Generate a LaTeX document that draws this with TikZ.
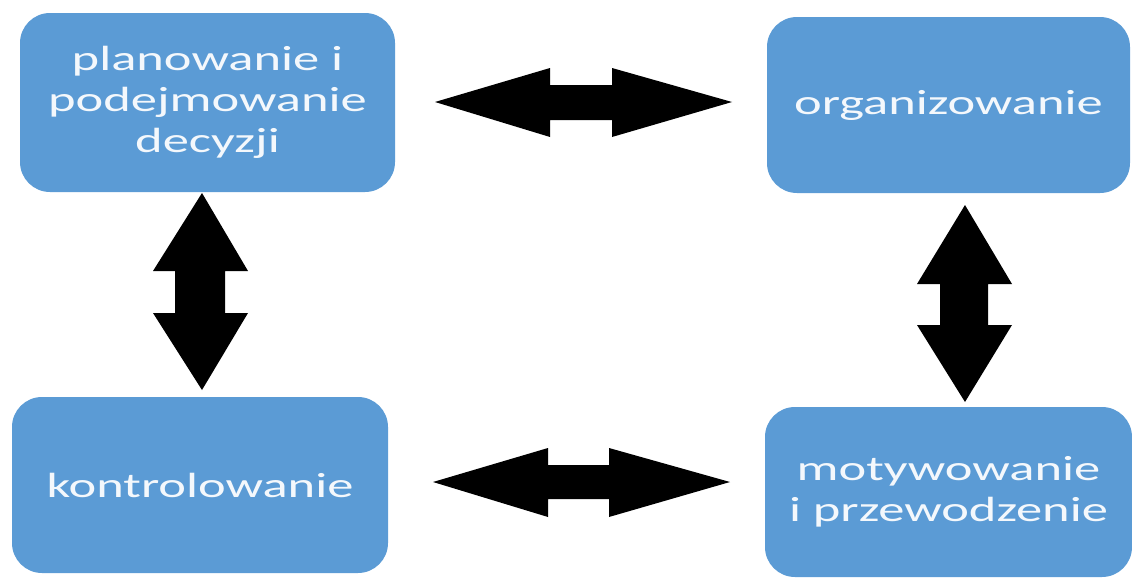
\documentclass[tikz,border=0pt]{standalone}
\usepackage{fontspec}
\setmainfont{Carlito}
\newfontfamily\boxfont[FakeStretch=1.5]{Carlito}
\usetikzlibrary{positioning}
\definecolor{boxblue}{HTML}{5B9BD5}
\definecolor{boxtext}{HTML}{F4F8FC}

\begin{document}
\begin{tikzpicture}[line cap=round,line join=round,x=0.5pt,y=-0.5pt,
  task/.style={fill=boxblue,rounded corners=15pt,text=boxtext,align=center,
    font=\boxfont\fontsize{17.5pt}{20.5pt}\selectfont,inner sep=0pt}]
\useasboundingbox (0,0) rectangle (1132,578);
% the four functions
\node[task,minimum width=187.5pt,minimum height=89.5pt] (plan) at (207.5,102.5) {planowanie i\\podejmowanie\\decyzji};
\node[task,minimum width=181.5pt,minimum height=88pt] (org) at (948.5,105) {organizowanie};
\node[task,minimum width=188pt,minimum height=88pt] (kontr) at (200,485) {kontrolowanie};
\node[task,minimum width=183.5pt,minimum height=85pt] (motyw) at (948.5,492) {motywowanie\\i przewodzenie};
% block arrows between them
\fill (435,102)--(550,68)--(550,85)--(612,85)--(612,68)--(732,102)--(612,137)--(612,120)--(550,120)--(550,137)--cycle;
\fill (433,482)--(548,448)--(548,465)--(609,465)--(609,448)--(730,482)--(609,517)--(609,499)--(548,499)--(548,517)--cycle;
\fill (202,193)--(248,271)--(225,271)--(225,313)--(248,313)--(202,390)--(153,313)--(175,313)--(175,271)--(153,271)--cycle;
\fill (965,205)--(1012,284)--(988,284)--(988,325)--(1012,325)--(965,402)--(917,325)--(940,325)--(940,284)--(917,284)--cycle;
\end{tikzpicture}
\end{document}
